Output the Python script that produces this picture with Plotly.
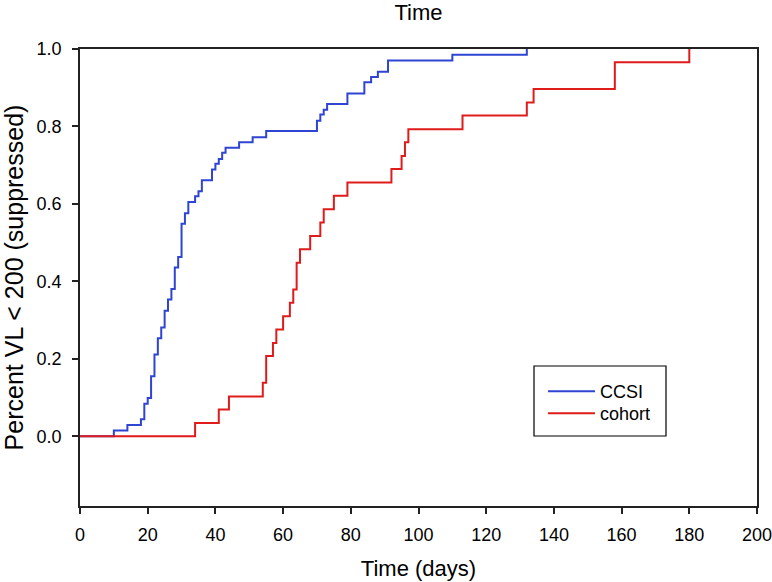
import plotly.graph_objects as go

# Data (step curves)
ccsi_days = [0, 10, 14, 18, 19, 20, 21, 22, 23, 24, 25, 26, 27, 28, 29, 30, 31, 32, 34, 35, 36,
             39, 40, 41, 42, 43, 47, 51, 55, 70, 71, 72, 73, 79, 84, 86, 88, 91, 110, 132]
ccsi_pct = [0, 0.015, 0.029, 0.044, 0.084, 0.099, 0.155, 0.211, 0.253, 0.281, 0.324, 0.353, 0.38,
            0.436, 0.463, 0.549, 0.576, 0.605, 0.62, 0.633, 0.661, 0.689, 0.704, 0.716, 0.732,
            0.745, 0.759, 0.772, 0.788, 0.815, 0.831, 0.843, 0.858, 0.885, 0.914, 0.928, 0.941,
            0.970, 0.985, 1.0]

cohort_days = [0, 34, 41, 44, 54, 55, 57, 58, 60, 62, 63, 64, 65, 68, 71, 72, 75, 79, 92, 95, 96,
               97, 113, 132, 134, 158, 180]
cohort_pct = [0, 0.0345, 0.069, 0.103, 0.138, 0.207, 0.241, 0.276, 0.310, 0.345, 0.379, 0.448,
              0.483, 0.517, 0.552, 0.586, 0.621, 0.655, 0.690, 0.724, 0.759, 0.793, 0.828, 0.862,
              0.897, 0.966, 1.0]

x_ticks = [0, 20, 40, 60, 80, 100, 120, 140, 160, 180, 200]
y_ticks = [0.0, 0.2, 0.4, 0.6, 0.8, 1.0]
y_tick_labels = ["0.0", "0.2", "0.4", "0.6", "0.8", "1.0"]

W, H = 772, 582
L, R, T, B = 80, 15, 49, 76
pw, ph = W - L - R, H - T - B

def px_x(px):
    return (px - L) / pw

def px_y(py):
    return (H - B - py) / ph

FONT = "Liberation Sans, Arial, sans-serif"

fig = go.Figure()
fig.add_trace(go.Scatter(x=ccsi_days, y=ccsi_pct, mode="lines", name="CCSI", legend="legend",
                         line=dict(shape="hv", color="#2f44d2", width=2)))
fig.add_trace(go.Scatter(x=cohort_days, y=cohort_pct, mode="lines", name="cohort", legend="legend2",
                         line=dict(shape="hv", color="#e01b1b", width=2)))

leg_common = dict(xanchor="left", yanchor="top", bgcolor="rgba(0,0,0,0)", borderwidth=0,
                  itemwidth=47, font=dict(size=18, family=FONT, color="black"))

fig.update_layout(
    width=W, height=H,
    margin=dict(l=L, r=R, t=T, b=B, autoexpand=False),
    paper_bgcolor="white", plot_bgcolor="white",
    font=dict(family=FONT, color="black", size=18),
    title=dict(text="Time", x=px_x(418.5), xref="paper", xanchor="center",
               y=1 - 12 / H, yref="container", yanchor="middle",
               font=dict(size=22, family=FONT, color="black")),
    showlegend=True,
    legend=dict(x=px_x(543), y=px_y(373), **leg_common),
    legend2=dict(x=px_x(543), y=px_y(395), **leg_common),
    shapes=[dict(type="rect", xref="paper", yref="paper",
                 x0=px_x(534), x1=px_x(666), y0=px_y(436), y1=px_y(366),
                 line=dict(color="black", width=1.2), fillcolor="rgba(0,0,0,0)")],
)

fig.update_xaxes(range=[0, 200], tickvals=x_ticks, ticks="outside", ticklen=6, tickwidth=1.5,
                 tickcolor="#222", showline=True, linecolor="#222", linewidth=1.5, mirror=True,
                 showgrid=False, zeroline=False, ticklabelstandoff=6, automargin=False,
                 ticklabeloverflow="allow",
                 tickfont=dict(size=18, family=FONT),
                 title=dict(text="Time (days)", font=dict(size=22, family=FONT), standoff=16))
fig.update_yaxes(range=[-0.18, 1.0], tickvals=y_ticks, ticktext=y_tick_labels, ticks="outside",
                 ticklen=6, tickwidth=1.5, tickcolor="#222", showline=True, linecolor="#222",
                 linewidth=1.5, mirror=True, showgrid=False, zeroline=False, ticklabelstandoff=7,
                 automargin=False, tickfont=dict(size=18, family=FONT),
                 title=dict(text="Percent VL < 200 (suppressed)", font=dict(size=25, family=FONT),
                            standoff=9))

fig.write_html("out.html", config={"displayModeBar": False},
               post_script="document.body.style.margin='0px';")
